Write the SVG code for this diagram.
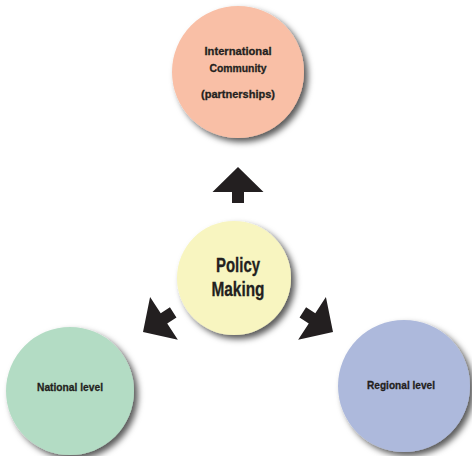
<svg xmlns="http://www.w3.org/2000/svg" width="472" height="456" viewBox="0 0 472 456">
  <style>
    .lbl { font-family: "Liberation Sans", Arial, sans-serif; font-weight: bold; fill: #231F20; stroke: #231F20; stroke-width: 0.3; text-anchor: middle; }
    .sm { font-size: 11.5px; }
    .lg { font-size: 19.5px; }
    .arrow { fill: #231F20; }
  </style>
  <defs>
    <filter id="shadow" x="-30%" y="-30%" width="160%" height="160%">
      <feDropShadow dx="4" dy="4" stdDeviation="3" flood-color="#000" flood-opacity="0.65"/>
    </filter>
    <polygon id="arr" points="0,0 25.5,25 6,25 6,36 -6,36 -6,25 -25.5,25"/>
  </defs>
  <rect width="472" height="456" fill="#fff"/>

  <g id="international">
    <circle cx="238" cy="72" r="66" fill="#F9BFA6" filter="url(#shadow)"/>
    <text class="lbl sm" x="238" y="55" textLength="67" lengthAdjust="spacingAndGlyphs">International</text>
    <text class="lbl sm" x="238" y="72" textLength="57" lengthAdjust="spacingAndGlyphs">Community</text>
    <text class="lbl sm" x="238" y="98" textLength="74" lengthAdjust="spacingAndGlyphs">(partnerships)</text>
  </g>

  <g id="policy">
    <circle cx="234" cy="278" r="57" fill="#F8F5C0" filter="url(#shadow)"/>
    <text class="lbl lg" x="238" y="272" textLength="44" lengthAdjust="spacingAndGlyphs">Policy</text>
    <text class="lbl lg" x="238" y="296" textLength="53" lengthAdjust="spacingAndGlyphs">Making</text>
  </g>

  <g id="national">
    <circle cx="70" cy="391" r="64" fill="#B3DCC4" filter="url(#shadow)"/>
    <text class="lbl sm" x="70" y="391" textLength="66" lengthAdjust="spacingAndGlyphs">National level</text>
  </g>

  <g id="regional">
    <circle cx="404" cy="386" r="66" fill="#ADB9DC" filter="url(#shadow)"/>
    <text class="lbl sm" x="401" y="389" textLength="68" lengthAdjust="spacingAndGlyphs">Regional level</text>
  </g>

  <g id="connectors" class="arrow">
    <use href="#arr" transform="translate(238,167)"/>
    <use href="#arr" transform="translate(143,332) rotate(-123)"/>
    <use href="#arr" transform="translate(333,332) rotate(123)"/>
  </g>
</svg>
